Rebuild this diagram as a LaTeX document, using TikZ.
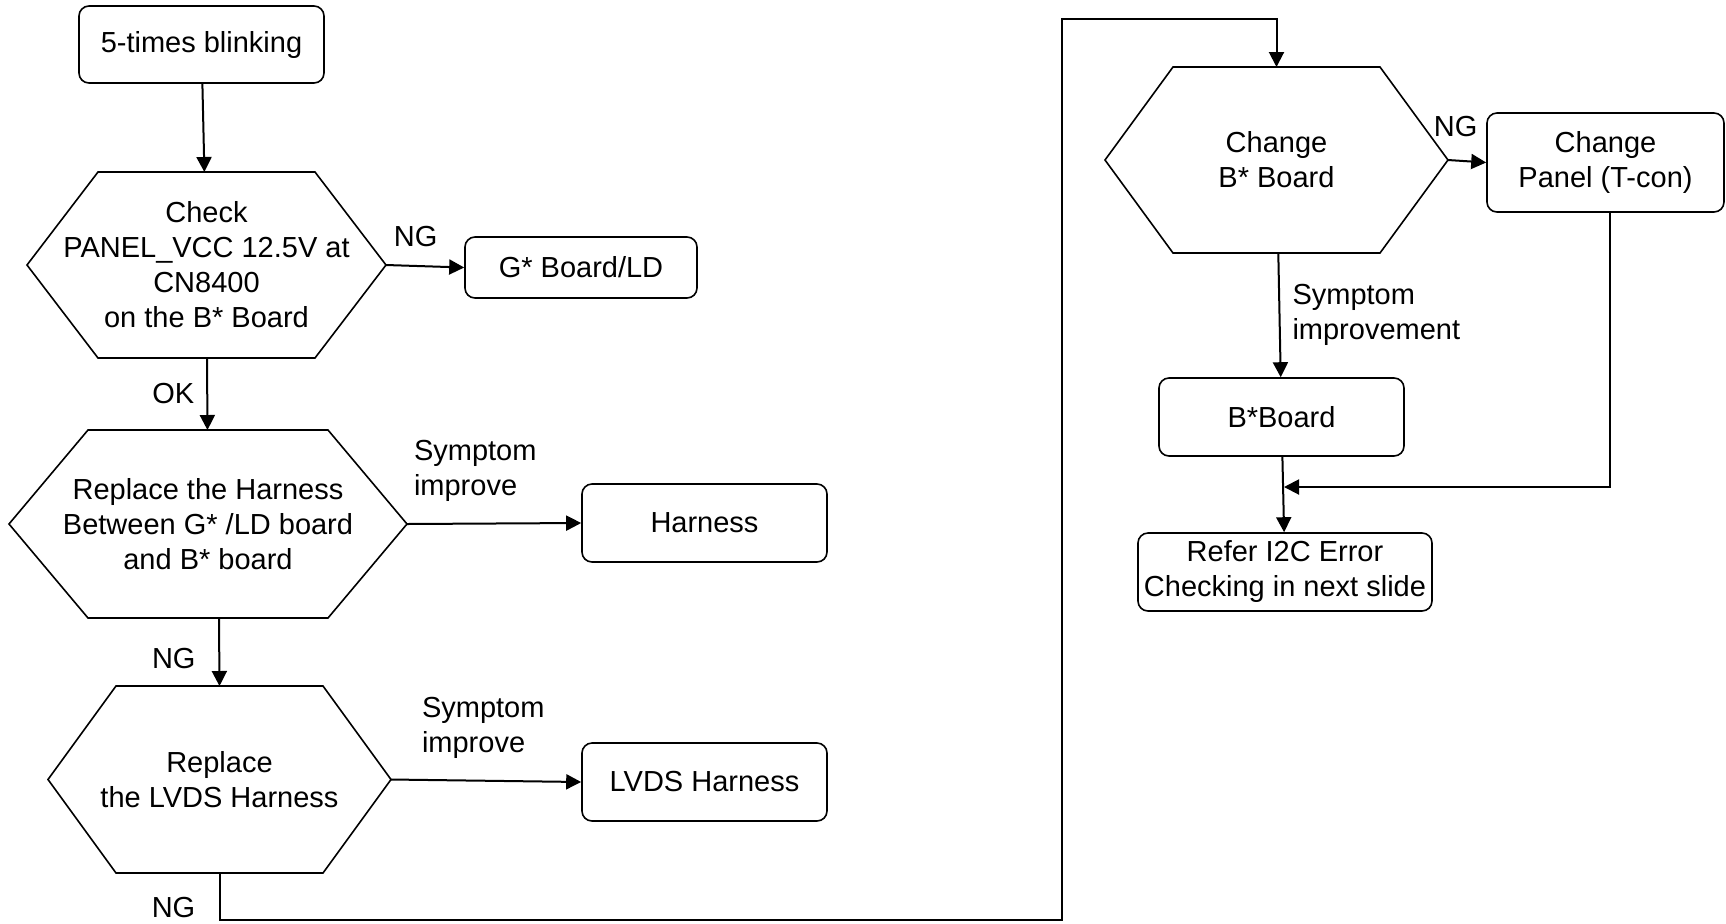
\documentclass[tikz,border=0pt]{standalone}
\usepackage{fontspec}
\setmainfont{Liberation Sans}
\usetikzlibrary{arrows.meta, positioning, calc}

\begin{document}
\begin{tikzpicture}[x=0.5pt, y=-0.5pt, font=\fontsize{14.5}{17.5}\selectfont, line width=1pt,
  box/.style={draw, line width=0.8pt, rounded corners=5pt, align=center, inner sep=1pt},
  hexa/.style={align=center, inner sep=0pt, outer sep=0pt},
  lbl/.style={inner sep=0pt, align=left},
  arr/.style={-{Triangle[length=7.5pt, width=7.5pt]}}]
\useasboundingbox (0,0) rectangle (1726,923);
% left column
\node[box, minimum width=122.5pt, minimum height=38.5pt] (blink) at (201.5,44.5) {5-times blinking};
\node[hexa, minimum width=179.5pt, minimum height=93pt] (chk) at (206.5,265) {Check\\PANEL\_VCC 12.5V at\\CN8400\\on the B* Board};
\node[box, minimum width=116pt, minimum height=30.5pt] (gld) at (581,267.5) {G* Board/LD};
\node[hexa, minimum width=199pt, minimum height=94pt] (harn) at (208,524) {Replace the Harness\\Between G* /LD board\\and B* board};
\node[box, minimum width=122.5pt, minimum height=39pt] (harnbox) at (704.5,523) {Harness};
\node[hexa, minimum width=171.5pt, minimum height=93.5pt] (lvds) at (219.5,779.5) {Replace\\the LVDS Harness};
\node[box, minimum width=122.5pt, minimum height=39pt] (lvdsbox) at (704.5,782) {LVDS Harness};
% right column
\node[hexa, minimum width=171.5pt, minimum height=93pt] (bchg) at (1276.5,160) {Change\\B* Board};
\node[box, minimum width=118.5pt, minimum height=49.5pt] (panel) at (1605.5,162.5) {Change\\Panel (T-con)};
\node[box, minimum width=122.5pt, minimum height=39pt] (bboard) at (1281.5,417) {B*Board};
\node[box, minimum width=147pt, minimum height=39pt] (refer) at (1285,572) {Refer I2C Error\\Checking in next slide};
\coordinate (c1) at (1062,920);
\coordinate (c2) at (1062,19);
\coordinate (join) at (1284,487);
% hexagon outlines
\foreach \n/\d in {chk/71, harn/79, lvds/68, bchg/68}
  \draw[line width=0.8pt] (\n.west) -- ($(\n.north west)+(\d,0)$) -- ($(\n.north east)-(\d,0)$) -- (\n.east)
    -- ($(\n.south east)-(\d,0)$) -- ($(\n.south west)+(\d,0)$) -- cycle;
% connectors
\draw[arr] (blink) -- (chk);
\draw[arr] (chk.east) -- (gld.west) node[lbl, pos=0.38, yshift=14.5pt] {NG};
\draw[arr] (chk) -- (harn) node[lbl, midway, xshift=-17pt] {OK};
\draw[arr] (harn.east) -- (harnbox.west) node[lbl, pos=0, anchor=west, xshift=3pt, yshift=26.5pt] {Symptom\\improve};
\draw[arr] ([xshift=5.5pt]harn.south) -- (lvds.north) node[lbl, pos=0.6, xshift=-22.75pt] {NG};
\draw[arr] (lvds.east) -- (lvdsbox.west) node[lbl, pos=0, anchor=west, xshift=15pt, yshift=25.75pt] {Symptom\\improve};
\draw[arr] (lvds.south) |- (c1) node[lbl, pos=0.37, xshift=-23pt] {NG} -- (c2) -| (bchg.north);
\draw[arr] (bchg.east) -- (panel.west) node[lbl, pos=0.2, yshift=17pt] {NG};
\draw[arr] (bchg) -- (bboard) node[lbl, midway, anchor=west, xshift=6pt] {Symptom\\improvement};
\draw[arr] (bboard) -- (refer);
\draw[arr] ([xshift=2.25pt]panel.south) |- (join);
\end{tikzpicture}
\end{document}
